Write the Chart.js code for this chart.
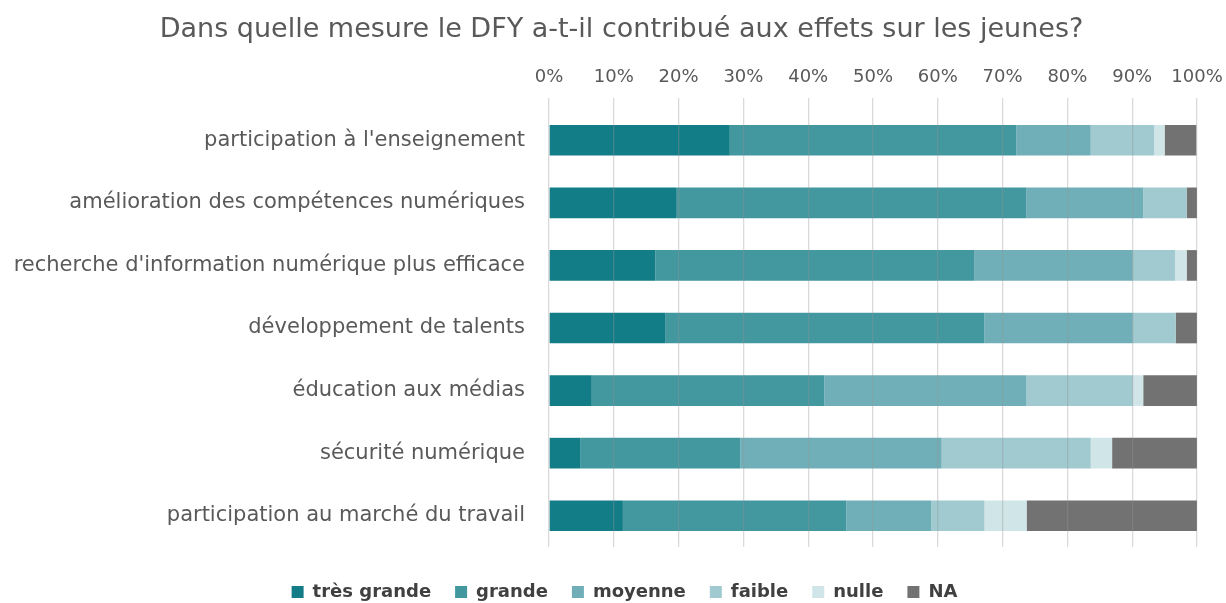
<!DOCTYPE html>
<html>
<head>
<meta charset="utf-8">
<script src="https://cdn.jsdelivr.net/npm/chart.js@4.4.0/dist/chart.umd.min.js"></script>
<style>
  html, body { margin: 0; padding: 0; background: #fff; }
  #wrap { width: 1226px; height: 603px; }
</style>
</head>
<body>
<div id="wrap"><canvas id="myChart" width="1226" height="603"></canvas></div>
<script>
// DONNEES (en % des reponses)
var categories = [
  "participation à l'enseignement",
  'amélioration des compétences numériques',
  "recherche d'information numérique plus efficace",
  'développement de talents',
  'éducation aux médias',
  'sécurité numérique',
  'participation au marché du travail'
];
var tresGrande = [27.9, 19.6, 16.4, 18.0, 6.6, 4.8, 11.4];
var grande     = [44.2, 54.1, 49.2, 49.2, 35.9, 24.7, 34.5];
var moyenne    = [11.5, 18.0, 24.5, 22.9, 31.2, 31.1, 13.1];
var faible     = [9.8, 6.7, 6.5, 6.6, 16.4, 23.0, 8.2];
var nulle      = [1.6, 0.0, 1.8, 0.0, 1.6, 3.3, 6.5];
var na         = [4.9, 1.6, 1.6, 3.3, 8.3, 13.1, 26.3];
var tickLabels = ['0%', '10%', '20%', '30%', '40%', '50%', '60%', '70%', '80%', '90%', '100%'];

var FONT = "'DejaVu Sans', sans-serif";
var GREY = '#595959';

// petit decalage du titre et de la legende
var shiftBlocks = {
  id: 'shiftBlocks',
  afterLayout: function (chart) {
    chart.legend.top += 12;
    chart.legend.bottom += 12;
    chart.legend.left += 21;
    chart.legend.right += 21;
    chart.titleBlock.left += 18;
    chart.titleBlock.right += 18;
  }
};

var ctx = document.getElementById('myChart').getContext('2d');
var myChart = new Chart(ctx, {
  type: 'bar',
  data: {
    labels: categories,
    datasets: [
      { label: 'très grande', data: tresGrande, backgroundColor: '#137d87' },
      { label: 'grande', data: grande, backgroundColor: '#43979f' },
      { label: 'moyenne', data: moyenne, backgroundColor: '#70afb7' },
      { label: 'faible', data: faible, backgroundColor: '#a0cacf' },
      { label: 'nulle', data: nulle, backgroundColor: '#d0e5e8' },
      { label: 'NA', data: na, backgroundColor: '#727272' }
    ]
  },
  plugins: [shiftBlocks],
  options: {
    indexAxis: 'y',
    responsive: false,
    animation: false,
    barPercentage: 0.49,
    categoryPercentage: 1,
    layout: { padding: { left: 10, right: 29, top: 8, bottom: 4 } },
    scales: {
      x: {
        position: 'top',
        stacked: true,
        min: 0,
        max: 100,
        grid: { color: 'rgba(150,150,150,0.35)', z: 1, tickLength: 11, lineWidth: 1.3 },
        border: { display: false },
        ticks: {
          stepSize: 10,
          color: GREY,
          font: { family: FONT, size: 18 },
          padding: 10,
          callback: function (v, i) { return tickLabels[i]; }
        },
        afterFit: function (s) { s.paddingLeft = 0; s.paddingRight = 0; }
      },
      y: {
        stacked: true,
        grid: { display: false },
        border: { display: false },
        ticks: { color: GREY, font: { family: FONT, size: 21 }, padding: 16 },
        afterFit: function (s) { s.width = 539; }
      }
    },
    plugins: {
      title: {
        display: true,
        text: 'Dans quelle mesure le DFY a-t-il contribué aux effets sur les jeunes?',
        color: GREY,
        font: { family: FONT, size: 27, weight: 'normal' },
        padding: { top: 6, bottom: 10 }
      },
      legend: {
        position: 'bottom',
        labels: {
          color: '#404040',
          font: { family: FONT, size: 18, weight: 'bold' },
          boxWidth: 12,
          boxHeight: 12,
          padding: 24
        }
      },
      tooltip: { enabled: false }
    }
  }
});
</script>
</body>
</html>
